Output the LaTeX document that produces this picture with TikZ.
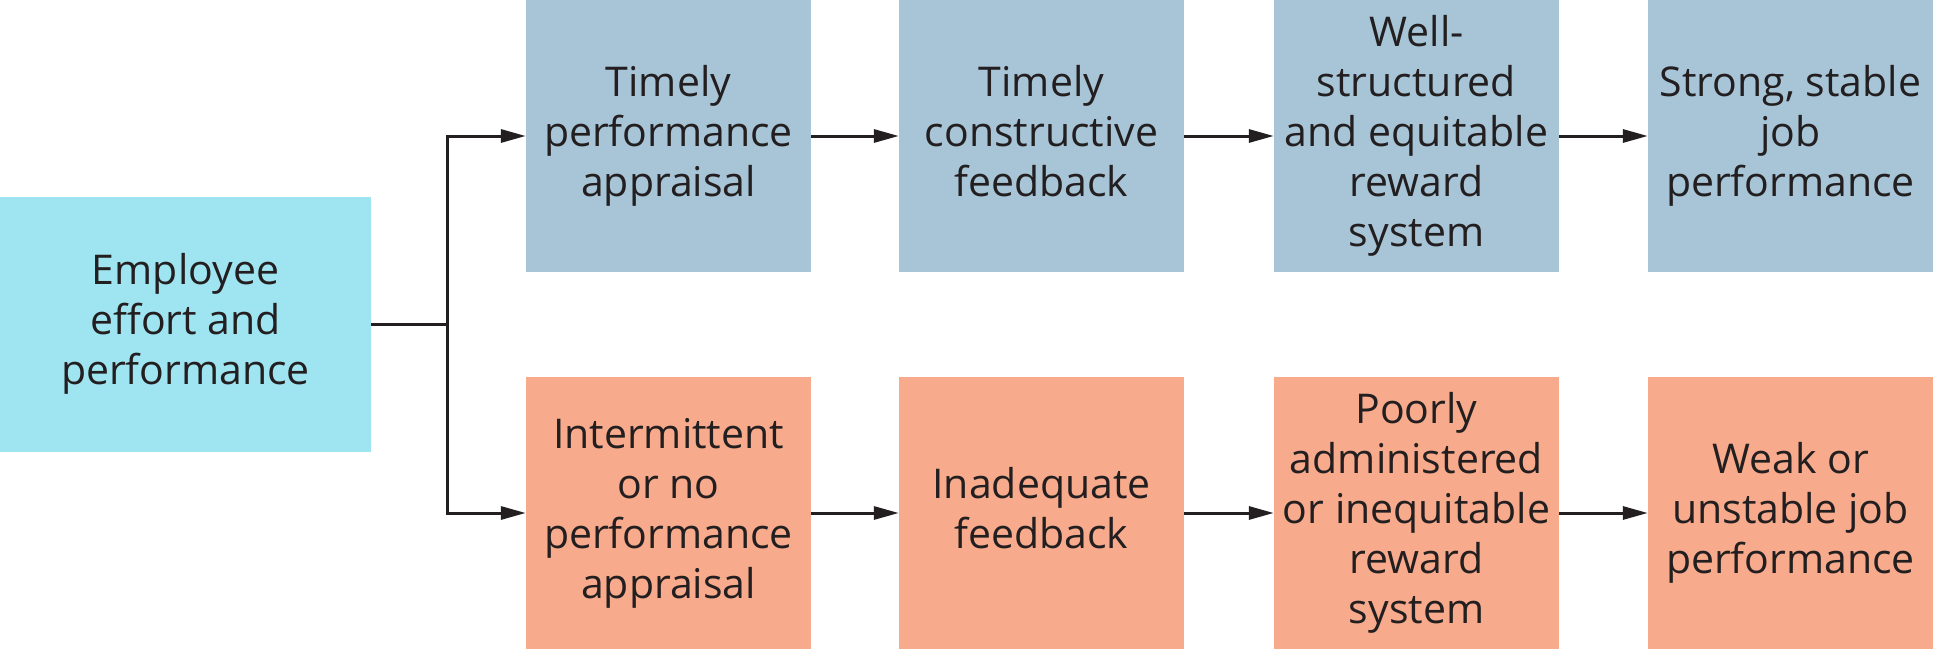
\documentclass[tikz,border=0pt]{standalone}
\usepackage{fontspec}
\setmainfont{Open Sans}
\usetikzlibrary{arrows.meta}
\definecolor{empcol}{HTML}{9FE5F1}
\definecolor{goodcol}{HTML}{A7C5D7}
\definecolor{badcol}{HTML}{F7AB8C}
\definecolor{inkcol}{HTML}{231F20}
\begin{document}
\begin{tikzpicture}[x=1pt,y=-1pt,
  boxbase/.style={rectangle, inner sep=0pt, align=center, text=inkcol,
    font=\fontsize{41}{50}\selectfont},
  empbox/.style={boxbase, fill=empcol, minimum width=371pt, minimum height=255pt},
  goodbox/.style={boxbase, fill=goodcol, minimum width=285pt, minimum height=272pt},
  badbox/.style={boxbase, fill=badcol, minimum width=285pt, minimum height=272pt},
  conn/.style={draw=inkcol, line width=3pt},
  arr/.style={conn, -{Triangle[length=25pt,width=13pt]}}
]
\useasboundingbox (0,0) rectangle (1934,650);
\node[empbox] (emp) at (185.5,324.5) {\strut Employee\\effort and\\performance\strut};
\node[goodbox] (t1) at (668.5,136) {\strut Timely\\performance\\appraisal\strut};
\node[goodbox] (t2) at (1041.5,136) {\strut Timely\\constructive\\feedback\strut};
\node[goodbox] (t3) at (1416.5,136) {\strut Well-\\structured\\and equitable\\reward\\system\strut};
\node[goodbox] (t4) at (1790.5,136) {\strut Strong, stable\\job\\performance\strut};
\node[badbox] (b1) at (668.5,513) {\strut Intermittent\\or no\\performance\\appraisal\strut};
\node[badbox] (b2) at (1041.5,513) {\strut Inadequate\\feedback\strut};
\node[badbox] (b3) at (1416.5,513) {\strut Poorly\\administered\\or inequitable\\reward\\system\strut};
\node[badbox] (b4) at (1790.5,513) {\strut Weak or\\unstable job\\performance\strut};
\coordinate (j) at (447,324.5);
\draw[conn] (emp.east) -- (j);
\draw[arr] (j) |- (t1.west);
\draw[arr] (j) |- (b1.west);
\draw[arr] (t1) -- (t2);
\draw[arr] (t2) -- (t3);
\draw[arr] (t3) -- (t4);
\draw[arr] (b1) -- (b2);
\draw[arr] (b2) -- (b3);
\draw[arr] (b3) -- (b4);
\end{tikzpicture}
\end{document}
